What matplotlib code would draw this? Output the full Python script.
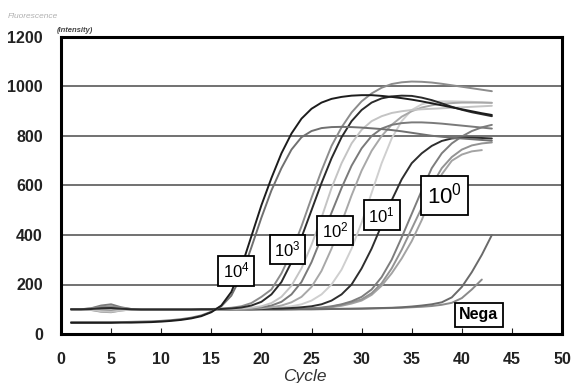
import matplotlib
matplotlib.use("Agg")
import matplotlib.pyplot as plt

plt.rcParams['font.family'] = ['Liberation Sans', 'DejaVu Sans']
plt.rcParams['mathtext.fontset'] = 'custom'
plt.rcParams['mathtext.rm'] = 'Liberation Sans'
plt.rcParams['mathtext.it'] = 'Liberation Sans:italic'
plt.rcParams['mathtext.bf'] = 'Liberation Sans:bold'

cycles = list(range(1, 44))

# 10^4
c_1e4_dark = [45, 45, 45, 45, 45, 46, 46, 47, 48, 50,
              53, 57, 63, 72, 88, 115, 170, 270, 395, 520,
              630, 730, 810, 870, 910, 935, 950, 958, 963, 965,
              965, 962, 958, 953, 947, 940, 932, 924, 916, 908,
              900, 892, 885]
c_1e4_gray = [48, 48, 48, 48, 48, 48, 49, 50, 51, 53,
              56, 60, 66, 75, 90, 112, 155, 235, 350, 470,
              580, 670, 745, 795, 820, 832, 836, 837, 836, 834,
              831, 828, 824, 819, 813, 807, 801, 797, 793, 790,
              787, 784, 781]
# 10^3
c_1e3_gray = [100, 100, 103, 110, 112, 106, 101, 100, 100, 100,
              100, 100, 100, 100, 101, 103, 106, 112, 125, 150,
              180, 245, 330, 435, 550, 660, 760, 835, 895, 940,
              972, 995, 1010, 1017, 1020, 1019, 1016, 1011, 1005, 999,
              993, 987, 981]
c_1e3_dark = [100, 100, 101, 104, 105, 102, 100, 99, 99, 99,
              99, 99, 99, 100, 100, 101, 103, 107, 115, 130,
              160, 210, 290, 390, 500, 610, 710, 795, 860, 905,
              935, 952, 960, 963, 962, 955, 945, 932, 918, 906,
              896, 888, 880]
# 10^2
c_1e2_light = [100, 100, 98, 92, 90, 95, 99, 100, 100, 100,
               100, 100, 100, 100, 100, 100, 101, 103, 106, 112,
               125, 150, 195, 265, 360, 470, 590, 690, 770, 825,
               860, 880, 893, 900, 905, 908, 910, 912, 914, 916,
               918, 920, 922]
c_1e2_gray = [100, 100, 104, 115, 120, 108, 101, 100, 100, 100,
              100, 100, 100, 100, 100, 100, 100, 102, 104, 108,
              115, 130, 160, 210, 290, 390, 490, 590, 680, 750,
              800, 830, 845, 852, 855, 855, 853, 850, 846, 842,
              838, 834, 830]
c_1e2_gray2 = [100, 100, 101, 103, 104, 101, 100, 100, 100, 100,
               100, 100, 100, 100, 100, 100, 100, 101, 102, 104,
               108, 115, 128, 150, 190, 255, 345, 450, 560, 660,
               740, 800, 845, 878, 900, 915, 924, 930, 933, 935,
               935, 935, 934]
# 10^1
c_1e1_dark = [100, 100, 101, 105, 107, 103, 100, 100, 100, 100,
              100, 100, 100, 100, 100, 100, 100, 100, 100, 101,
              102, 103, 105, 108, 112, 120, 135, 160, 200, 265,
              345, 440, 540, 625, 690, 730, 760, 780, 790, 793,
              793, 792, 790]
c_1e1_light = [100, 100, 102, 106, 108, 104, 100, 100, 100, 100,
               100, 100, 100, 100, 100, 100, 100, 100, 101, 102,
               104, 107, 112, 120, 135, 160, 200, 260, 345, 450,
               570, 690, 790, 860, 905, 928, 938, 940, 940, 939,
               938, 936, 934]
# 10^0
c_1e0_a = [100, 100, 100, 103, 104, 102, 100, 100, 100, 100,
           100, 100, 100, 100, 100, 100, 100, 100, 100, 100,
           100, 100, 101, 102, 104, 107, 112, 120, 132, 150,
           180, 230, 300, 390, 485, 580, 670, 730, 770, 798,
           820, 835, 845]
c_1e0_b = [100, 100, 97, 90, 88, 95, 99, 100, 100, 100,
           100, 100, 100, 100, 100, 100, 100, 100, 100, 100,
           100, 100, 100, 101, 102, 105, 110, 118, 128, 140,
           165, 205, 265, 340, 425, 510, 600, 670, 715, 745,
           762, 770, 774]
c_1e0_c = [100, 100, 102, 108, 110, 104, 100, 100, 100, 100,
           100, 100, 100, 100, 100, 100, 100, 100, 100, 100,
           100, 100, 100, 101, 102, 104, 108, 114, 123, 135,
           158, 195, 245, 305, 375, 460, 560, 645, 700, 725,
           738, 743]
# Negative
c_nega_a = [100, 100, 101, 104, 105, 102, 100, 100, 100, 100,
            100, 100, 100, 100, 100, 100, 100, 100, 100, 100,
            100, 100, 100, 100, 100, 101, 101, 102, 102, 103,
            104, 105, 106, 108, 111, 115, 120, 128, 148, 190,
            250, 320, 400]
c_nega_b = [100, 100, 99, 96, 95, 98, 100, 100, 100, 100,
            100, 100, 100, 100, 100, 100, 100, 100, 100, 100,
            100, 100, 100, 100, 100, 100, 101, 101, 102, 102,
            103, 104, 105, 106, 108, 110, 113, 118, 126, 145,
            180, 220]

series = [
    (c_1e0_c, '#a3a3a3'), (c_1e0_b, '#939393'), (c_1e0_a, '#7d7d7d'),
    (c_nega_b, '#8a8a8a'), (c_nega_a, '#6a6a6a'),
    (c_1e1_light, '#cfcfcf'), (c_1e1_dark, '#2e2e2e'),
    (c_1e2_gray2, '#a8a8a8'), (c_1e2_gray, '#7a7a7a'), (c_1e2_light, '#c4c4c4'),
    (c_1e3_gray, '#8c8c8c'), (c_1e3_dark, '#2a2a2a'),
    (c_1e4_gray, '#707070'), (c_1e4_dark, '#1c1c1c'),
]

x_ticks = [0, 5, 10, 15, 20, 25, 30, 35, 40, 45, 50]
y_ticks = [0, 200, 400, 600, 800, 1000, 1200]

labels = [('$10^4$', 17.5, 255, 12), ('$10^3$', 22.6, 340, 12),
          ('$10^2$', 27.35, 418, 12), ('$10^1$', 32.0, 481, 12),
          ('$10^0$', 38.3, 560, 16), ('Nega', 41.7, 77, 11.5)]

fig = plt.figure(figsize=(5.71, 3.83), dpi=100)
ax = fig.add_axes([61 / 571, 49 / 383, 501 / 571, 297 / 383])

for yv in y_ticks[1:-1]:
    ax.axhline(yv, color='#4a4a4a', lw=1.1, zorder=1)

for vals, col in series:
    ax.plot(cycles[:len(vals)], vals, color=col, lw=1.4, zorder=2,
            solid_capstyle='round')

for txt, xv, yv, fs in labels:
    ax.text(xv, yv, txt, ha='center', va='center', fontsize=fs,
            fontweight='bold' if txt == 'Nega' else 'normal',
            bbox=dict(boxstyle='square,pad=0.28', fc='white', ec='black', lw=1.3),
            zorder=5)

ax.set_xlim(0, 50)
ax.set_ylim(0, 1200)
ax.set_xticks(x_ticks)
ax.set_yticks(y_ticks)
ax.tick_params(axis='x', direction='in', length=4, width=0.8, pad=13,
               labelsize=11.5, colors='#222222')
ax.tick_params(axis='y', length=0, pad=13, labelsize=11.5, colors='#222222')
for lab in ax.get_xticklabels() + ax.get_yticklabels():
    lab.set_fontweight('bold')
for sp in ax.spines.values():
    sp.set_linewidth(2.2)
    sp.set_color('black')
    sp.set_zorder(6)

fig.text(305 / 571, 1 - 377 / 383, 'Cycle', ha='center', va='center',
         fontsize=12.5, style='italic', color='#333333')
fig.text(8 / 571, 1 - 16 / 383, 'Fluorescence', ha='left', va='center',
         fontsize=6, style='italic', color='#b0b0b0')
fig.text(57 / 571, 1 - 31 / 383, '(intensity)', ha='left', va='center',
         fontsize=5.5, style='italic', fontweight='bold', color='#444444')

fig.savefig('out.png', dpi=100)
